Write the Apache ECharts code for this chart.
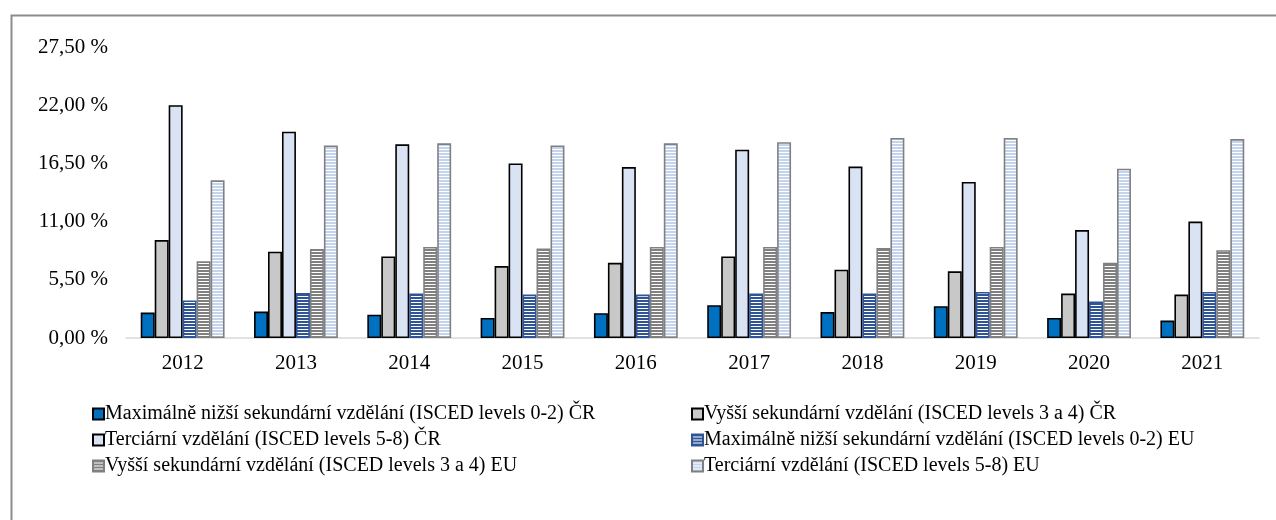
<!DOCTYPE html>
<html>
<head>
<meta charset="utf-8">
<script src="https://cdn.jsdelivr.net/npm/echarts@6/dist/echarts.min.js"></script>
<style>html,body{margin:0;padding:0;background:#fff}#c{width:1276px;height:520px}</style>
</head>
<body>
<div id="c"></div>
<script>
var years = ['2012','2013','2014','2015','2016','2017','2018','2019','2020','2021'];
var seriesNames = [
  'Maximálně nižší sekundární vzdělání (ISCED levels 0-2) ČR',
  'Vyšší sekundární vzdělání (ISCED levels 3 a 4) ČR',
  'Terciární vzdělání (ISCED levels 5-8) ČR',
  'Maximálně nižší sekundární vzdělání (ISCED levels 0-2) EU',
  'Vyšší sekundární vzdělání (ISCED levels 3 a 4) EU',
  'Terciární vzdělání (ISCED levels 5-8) EU'
];
var lowCR  = [2.4, 2.5, 2.2, 1.9, 2.35, 3.1, 2.45, 3.0, 1.9, 1.65];
var midCR  = [9.25, 8.15, 7.7, 6.8, 7.1, 7.7, 6.45, 6.3, 4.2, 4.1];
var terCR  = [22.0, 19.5, 18.3, 16.5, 16.15, 17.8, 16.2, 14.75, 10.2, 11.0];
var lowEU  = [3.55, 4.25, 4.2, 4.1, 4.1, 4.2, 4.2, 4.35, 3.45, 4.35];
var midEU  = [7.25, 8.4, 8.6, 8.45, 8.6, 8.6, 8.5, 8.6, 7.1, 8.3];
var terEU  = [14.9, 18.2, 18.4, 18.2, 18.4, 18.5, 18.9, 18.9, 16.0, 18.8];
var yTicks = {min: 0, max: 27.5, interval: 5.5};

function stripes(line, bg, lineH, period) {
  var c = document.createElement('canvas');
  c.width = 4; c.height = period;
  var g = c.getContext('2d');
  g.fillStyle = bg; g.fillRect(0, 0, 4, period);
  g.fillStyle = line; g.fillRect(0, 0, 4, lineH);
  return {image: c, repeat: 'repeat'};
}

var styles = [
  {color: '#0070C0', borderColor: '#000000', borderWidth: 1.6},
  {color: '#C8C8C8', borderColor: '#000000', borderWidth: 1.6},
  {color: '#DAE3F3', borderColor: '#000000', borderWidth: 1.6},
  {color: stripes('#2F5597', '#ffffff', 2, 3), borderColor: '#2F5597', borderWidth: 1.6},
  {color: stripes('#808080', '#ffffff', 2, 3), borderColor: '#808080', borderWidth: 1.6},
  {color: stripes('#C5D4EE', '#ffffff', 2, 3), borderColor: '#808080', borderWidth: 1.6}
];
var values = [lowCR, midCR, terCR, lowEU, midEU, terEU];

var series = values.map(function (v, i) {
  return {
    name: seriesNames[i], type: 'bar', data: v,
    barGap: '0%', barCategoryGap: '26%',
    itemStyle: styles[i],
    emphasis: {disabled: true}
  };
});

var font = 'Liberation Serif';
var legendBase = {
  orient: 'vertical', top: 404, itemGap: 6, padding: 0,
  itemWidth: 11, itemHeight: 11, icon: 'rect',
  textStyle: {fontFamily: font, fontSize: 20, color: '#000', padding: [0, 0, 0, -4]},
  selectedMode: false
};
var chart = echarts.init(document.getElementById('c'), null, {renderer: 'canvas'});
chart.setOption({
  animation: false,
  backgroundColor: '#ffffff',
  graphic: [{
    type: 'rect', left: 9, top: 13, z: -1,
    shape: {x: 0, y: 0, width: 1400, height: 700},
    style: {fill: 'none', stroke: '#8C8C8C', lineWidth: 2}
  }],
  grid: {left: 126, right: 17, top: 47, bottom: 182, containLabel: false},
  xAxis: {
    type: 'category', data: years,
    axisLine: {lineStyle: {color: '#D9D9D9', width: 1.5}},
    axisTick: {show: false},
    axisLabel: {color: '#000', fontFamily: font, fontSize: 21, margin: 15}
  },
  yAxis: {
    type: 'value', min: yTicks.min, max: yTicks.max, interval: yTicks.interval,
    splitLine: {show: false},
    axisLine: {show: false}, axisTick: {show: false},
    axisLabel: {
      color: '#000', fontFamily: font, fontSize: 21, margin: 18,
      formatter: function (v) { return v.toFixed(2).replace('.', ',') + ' %'; }
    }
  },
  legend: [
    Object.assign({}, legendBase, {data: [seriesNames[0], seriesNames[2], seriesNames[4]], left: 92}),
    Object.assign({}, legendBase, {data: [seriesNames[1], seriesNames[3], seriesNames[5]], left: 691})
  ],
  series: series
});
</script>
</body>
</html>
